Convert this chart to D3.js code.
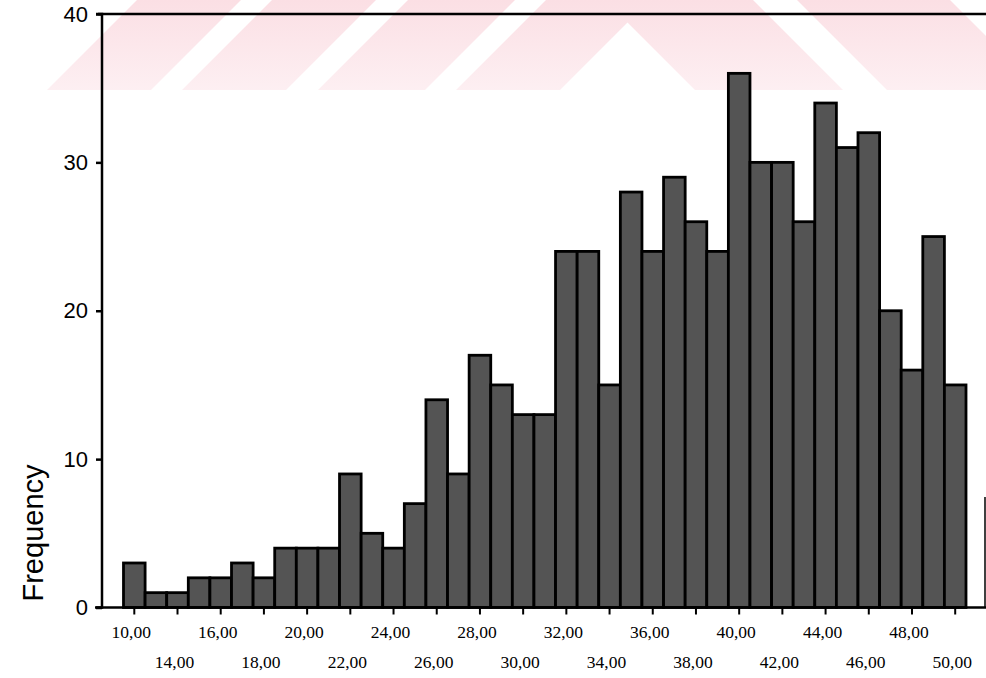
<!DOCTYPE html>
<html>
<head>
<meta charset="utf-8">
<script src="https://cdn.jsdelivr.net/npm/d3@7/dist/d3.min.js"></script>
<style>
  html, body { margin: 0; padding: 0; background: #fff; }
  svg { display: block; }
</style>
</head>
<body>
<div id="chart"></div>
<script>
// ---- data ----
const frequencies = [3, 1, 1, 2, 2, 3, 2, 4, 4, 4, 9, 5, 4, 7, 14, 9, 17, 15, 13, 13,
                     24, 24, 15, 28, 24, 29, 26, 24, 36, 30, 30, 26, 34, 31, 32, 20, 16, 25, 15];
const xTickLabels = ["10,00", "14,00", "16,00", "18,00", "20,00", "22,00", "24,00", "26,00",
                     "28,00", "30,00", "32,00", "34,00", "36,00", "38,00", "40,00", "42,00",
                     "44,00", "46,00", "48,00", "50,00"];
const yTicks = [0, 10, 20, 30, 40];
const yLabel = "Frequency";

// ---- layout ----
const W = 986, H = 678;
const plot = { left: 102, right: 986, top: 14, bottom: 607.5 };
const barsLeft = 123.5, barsRight = 966;

const svg = d3.select("#chart").append("svg")
  .attr("width", W).attr("height", H);

// watermark stripes (decorative background)
const defs = svg.append("defs");
const grad = defs.append("linearGradient").attr("id", "wm")
  .attr("x1", 0).attr("y1", 0).attr("x2", 0).attr("y2", 1);
grad.append("stop").attr("offset", "0%").attr("stop-color", "#fbdfe4");
grad.append("stop").attr("offset", "100%").attr("stop-color", "#fdeff2");

const wmH = 90, slant = 90;
const leftStripes = [[47, 151], [182, 286], [318, 425], [456, 560]];
const rightStripes = [[695, 843], [887, 1040]];
const wm = svg.append("g").attr("fill", "url(#wm)");
leftStripes.forEach(([a, b]) => {
  wm.append("polygon").attr("points",
    `${a},${wmH} ${b},${wmH} ${b + slant},0 ${a + slant},0`);
});
rightStripes.forEach(([a, b]) => {
  wm.append("polygon").attr("points",
    `${a},${wmH} ${b},${wmH} ${b - slant},0 ${a - slant},0`);
});

// scales
const x = d3.scaleBand()
  .domain(d3.range(frequencies.length))
  .range([barsLeft, barsRight])
  .padding(0);

const y = d3.scaleLinear().domain([0, 40]).range([plot.bottom, plot.top]);

// bars
svg.append("g")
  .selectAll("rect")
  .data(frequencies)
  .join("rect")
  .attr("x", (d, i) => x(i))
  .attr("y", d => y(d))
  .attr("width", x.bandwidth())
  .attr("height", d => y(0) - y(d))
  .attr("fill", "#545454")
  .attr("stroke", "#000")
  .attr("stroke-width", 2.8);

// frame lines: top and right fragment
svg.append("line")
  .attr("x1", plot.left - 4).attr("x2", W)
  .attr("y1", y(40)).attr("y2", y(40))
  .attr("stroke", "#000").attr("stroke-width", 2.5);
svg.append("line")
  .attr("x1", 985).attr("x2", 985)
  .attr("y1", 497).attr("y2", plot.bottom)
  .attr("stroke", "#000").attr("stroke-width", 1.5);

// y axis
const yAxis = d3.axisLeft(y).tickValues(yTicks).tickSize(6).tickPadding(8)
  .tickFormat(d3.format("d"));
const gy = svg.append("g")
  .attr("transform", `translate(${plot.left},0)`)
  .call(yAxis);
gy.select(".domain").attr("stroke", "#000").attr("stroke-width", 2.5)
  .attr("d", `M-6,${y(40)}H0V${y(0)}H-6`);
gy.selectAll(".tick line").attr("stroke", "#000").attr("stroke-width", 2.5);
gy.selectAll(".tick text")
  .attr("font-family", "'Liberation Sans', Arial, sans-serif")
  .attr("font-size", 22).attr("fill", "#000");

// x axis (baseline + ticks at every second bar)
const tickIdx = xTickLabels.map((_, k) => k * 2);
svg.append("line")
  .attr("x1", 95).attr("x2", W)
  .attr("y1", plot.bottom).attr("y2", plot.bottom)
  .attr("stroke", "#000").attr("stroke-width", 2.5);

const gx = svg.append("g");
gx.selectAll("line.tk")
  .data(tickIdx)
  .join("line")
  .attr("class", "tk")
  .attr("x1", i => x(i) + x.bandwidth() / 2)
  .attr("x2", i => x(i) + x.bandwidth() / 2)
  .attr("y1", plot.bottom)
  .attr("y2", plot.bottom + 7)
  .attr("stroke", "#000").attr("stroke-width", 2);

gx.selectAll("text")
  .data(xTickLabels)
  .join("text")
  .attr("x", (d, k) => x(tickIdx[k]) + x.bandwidth() / 2 - 3)
  .attr("y", (d, k) => k % 2 === 0 ? 638 : 668)
  .attr("text-anchor", "middle")
  .attr("font-family", "'Liberation Serif', 'Times New Roman', serif")
  .attr("font-size", 17.5)
  .attr("fill", "#000")
  .text(d => d);

// y label
svg.append("text")
  .attr("transform", `translate(43,533) rotate(-90)`)
  .attr("text-anchor", "middle")
  .attr("font-family", "'Liberation Sans', Arial, sans-serif")
  .attr("font-size", 29)
  .attr("fill", "#000")
  .text(yLabel);
</script>
</body>
</html>
